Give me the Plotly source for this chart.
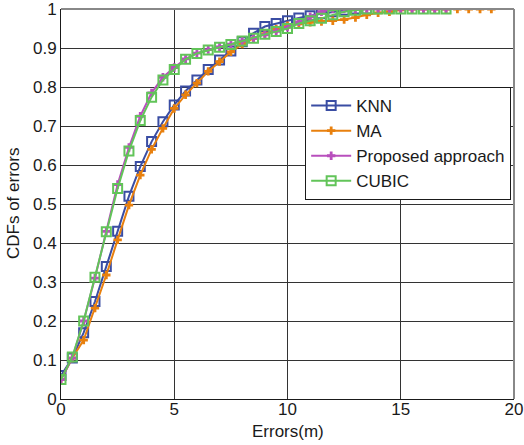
import plotly.graph_objects as go

# ---- data ----
x_knn = [0, 0.5, 1, 1.5, 2, 2.5, 3, 3.5, 4, 4.5, 5, 5.5, 6, 6.5, 7, 7.5, 8, 8.5, 9,
         9.5, 10, 10.5, 11, 11.5, 12, 12.5, 13, 13.5]
knn = [0.06, 0.105, 0.17, 0.25, 0.34, 0.43, 0.52, 0.596, 0.66, 0.711, 0.754, 0.79, 0.818,
       0.845, 0.869, 0.892, 0.916, 0.938, 0.955, 0.963, 0.97, 0.977, 0.983, 0.988, 0.993,
       0.997, 1.0, 1.0]

x_ma = [0, 0.5, 1, 1.5, 2, 2.5, 3, 3.5, 4, 4.5, 5, 5.5, 6, 6.5, 7, 7.5, 8, 8.5, 9, 9.5,
        10, 10.5, 11, 11.5, 12, 12.5, 13, 13.5, 14, 14.5, 15, 15.5, 16, 16.5, 17, 17.5,
        18, 18.5, 19]
ma = [0.05, 0.105, 0.151, 0.233, 0.318, 0.408, 0.497, 0.574, 0.64, 0.694, 0.745, 0.78,
      0.81, 0.84, 0.865, 0.89, 0.91, 0.925, 0.937, 0.948, 0.957, 0.962, 0.966, 0.968,
      0.97, 0.973, 0.978, 0.985, 0.99, 0.993, 0.998, 1.0, 1.0, 1.0, 1.0, 1.0, 1.0, 1.0, 1.0]

x_prop = [0, 0.5, 1, 1.5, 2, 2.5, 3, 3.5, 4, 4.5, 5, 5.5, 6, 6.5, 7, 7.5, 8, 8.5, 9, 9.5,
          10, 10.5, 11, 11.5, 12, 12.5, 13, 13.5, 14, 14.5, 15, 15.5, 16, 16.5, 17]
prop = [0.05, 0.105, 0.2, 0.31, 0.43, 0.55, 0.645, 0.725, 0.785, 0.825, 0.85, 0.872,
        0.887, 0.896, 0.903, 0.91, 0.918, 0.925, 0.934, 0.943, 0.953, 0.967, 0.98, 0.993,
        1.0, 1.0, 1.0, 1.0, 1.0, 1.0, 1.0, 1.0, 1.0, 1.0, 1.0]

x_cubic = [0, 0.5, 1, 1.5, 2, 2.5, 3, 3.5, 4, 4.5, 5, 5.5, 6, 6.5, 7, 7.5, 8, 8.5, 9, 9.5,
           10, 10.5, 11, 11.5, 12, 12.5, 13, 13.5, 14, 14.5, 15, 15.5, 16, 16.5, 17]
cubic = [0.05, 0.108, 0.2, 0.312, 0.429, 0.54, 0.636, 0.714, 0.774, 0.818, 0.845, 0.871,
         0.886, 0.895, 0.902, 0.909, 0.918, 0.925, 0.935, 0.942, 0.95, 0.963, 0.97, 0.976,
         0.985, 0.993, 0.997, 1.0, 1.0, 1.0, 1.0, 1.0, 1.0, 1.0, 1.0]

x_ticks = [0, 5, 10, 15, 20]
y_ticks = [0, 0.1, 0.2, 0.3, 0.4, 0.5, 0.6, 0.7, 0.8, 0.9, 1]
y_labels = ["0", "0.1", "0.2", "0.3", "0.4", "0.5", "0.6", "0.7", "0.8", "0.9", "1"]
x_title = "Errors(m)"
y_title = "CDFs of errors"

FONT = "Liberation Sans, Arial, sans-serif"

fig = go.Figure()
fig.add_trace(go.Scatter(x=x_knn, y=knn, name="KNN", mode="lines+markers",
                         line=dict(color="#3A4DA3", width=2),
                         marker=dict(symbol="square-open", size=9, color="#3A4DA3",
                                     line=dict(width=2))))
fig.add_trace(go.Scatter(x=x_ma, y=ma, name="MA", mode="lines+markers",
                         line=dict(color="#E8800E", width=2),
                         marker=dict(symbol="cross", size=7, color="#E8800E")))
fig.add_trace(go.Scatter(x=x_prop, y=prop, name="Proposed approach", mode="lines+markers",
                         line=dict(color="#B84FBD", width=2),
                         marker=dict(symbol="cross", size=7, color="#B84FBD")))
fig.add_trace(go.Scatter(x=x_cubic, y=cubic, name="CUBIC", mode="lines+markers",
                         line=dict(color="#62C459", width=2),
                         marker=dict(symbol="square-open", size=9, color="#62C459",
                                     line=dict(width=2))))

fig.update_layout(
    width=524, height=445,
    margin=dict(l=61, r=10, t=9, b=46, autoexpand=False),
    paper_bgcolor="white", plot_bgcolor="white",
    font=dict(family=FONT, size=17, color="#1a1a1a"),
    showlegend=True,
    legend=dict(x=0.539, y=0.8, xanchor="left", yanchor="top",
                bgcolor="white", bordercolor="#1a1a1a", borderwidth=1,
                font=dict(family=FONT, size=17), tracegroupgap=0, itemwidth=40),
    shapes=[
        dict(type="line", xref="paper", yref="paper", x0=0, x1=1, y0=1, y1=1,
             line=dict(color="#888888", width=2)),
        dict(type="line", xref="paper", yref="paper", x0=1, x1=1, y0=0, y1=1,
             line=dict(color="#888888", width=2)),
    ],
    annotations=[
        dict(text=x_title, xref="paper", yref="paper", x=0.5, y=0, xanchor="center",
             yanchor="middle", yshift=-32, showarrow=False, font=dict(size=17)),
        dict(text=y_title, xref="paper", yref="paper", x=0, y=0.5, xanchor="center",
             yanchor="middle", xshift=-48, textangle=-90, showarrow=False,
             font=dict(size=17)),
    ],
)
fig.update_xaxes(range=[0, 20], tickvals=x_ticks, showgrid=True, gridcolor="#333333",
                 gridwidth=1, showline=True, linecolor="#1a1a1a", linewidth=1,
                 zeroline=False, ticks="", automargin=False, ticklabelstandoff=-5,
                 ticklabeloverflow="allow", tickfont=dict(size=17))
fig.update_yaxes(range=[0, 1], tickvals=y_ticks, ticktext=y_labels, showgrid=True,
                 gridcolor="#333333", gridwidth=1, showline=True, linecolor="#1a1a1a",
                 linewidth=1, zeroline=False, ticks="", automargin=False,
                 ticklabeloverflow="allow", tickfont=dict(size=17))

fig.write_html("out.html")
